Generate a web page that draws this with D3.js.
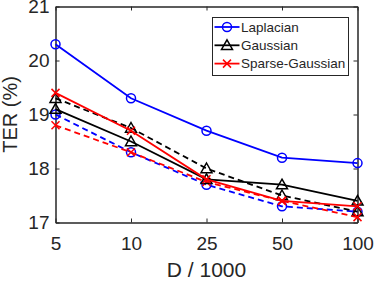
<!DOCTYPE html>
<html>
<head>
<meta charset="utf-8">
<script src="https://cdn.jsdelivr.net/npm/d3@7"></script>
<style>
  body { margin: 0; background: #fff; }
  text { font-family: "Liberation Sans", Arial, sans-serif; fill: #262626; }
</style>
</head>
<body>
<div id="chart"></div>
<script>
const categories = ["5", "10", "25", "50", "100"];
const yTicks = [17, 18, 19, 20, 21];

const laplacian      = [20.3, 19.3, 18.7, 18.2, 18.1];
const laplacianDash  = [19.0, 18.3, 17.7, 17.3, 17.2];
const gaussian       = [19.1, 18.5, 17.8, 17.7, 17.4];
const gaussianDash   = [19.3, 18.75, 18.0, 17.5, 17.2];
const sparse         = [19.4, 18.7, 17.8, 17.4, 17.3];
const sparseDash     = [18.8, 18.3, 17.75, 17.4, 17.1];

const seriesList = [
  { name: "Laplacian", values: laplacianDash, color: "#0000ff", marker: "circle", dash: true },
  { name: "Gaussian", values: gaussianDash, color: "#000000", marker: "triangle", dash: true },
  { name: "Sparse-Gaussian", values: sparseDash, color: "#ff0000", marker: "cross", dash: true },
  { name: "Laplacian", values: laplacian, color: "#0000ff", marker: "circle", dash: false, legend: true },
  { name: "Gaussian", values: gaussian, color: "#000000", marker: "triangle", dash: false, legend: true },
  { name: "Sparse-Gaussian", values: sparse, color: "#ff0000", marker: "cross", dash: false, legend: true }
];

const width = 374, height = 282;
const margin = { top: 6.5, right: 16.5, bottom: 59.5, left: 55.5 };
const w = width - margin.left - margin.right;
const h = height - margin.top - margin.bottom;

const svg = d3.select("#chart").append("svg")
  .attr("width", width)
  .attr("height", height);

const g = svg.append("g")
  .attr("transform", `translate(${margin.left},${margin.top})`);

const x = d3.scalePoint().domain(categories).range([0, w]);
const y = d3.scaleLinear().domain([17, 21]).range([h, 0]);

const axisColor = "#262626";

// axes, inward ticks on all four sides
const axBottom = g.append("g")
  .attr("transform", `translate(0,${h})`)
  .call(d3.axisBottom(x).tickSizeInner(-4).tickSizeOuter(0).tickPadding(14.5));
const axTop = g.append("g")
  .call(d3.axisTop(x).tickSizeInner(-4).tickSizeOuter(0).tickFormat(""));
const axLeft = g.append("g")
  .call(d3.axisLeft(y).tickValues(yTicks).tickFormat(d3.format("d"))
    .tickSizeInner(-4).tickSizeOuter(0).tickPadding(6));
const axRight = g.append("g")
  .attr("transform", `translate(${w},0)`)
  .call(d3.axisRight(y).tickValues(yTicks).tickSizeInner(-4).tickSizeOuter(0).tickFormat(""));

[axBottom, axTop, axLeft, axRight].forEach(a => {
  a.selectAll("path").attr("stroke", axisColor).attr("stroke-width", 1.5);
  a.selectAll("line").attr("stroke", axisColor).attr("stroke-width", 1);
  a.selectAll("text").attr("font-size", 19).attr("fill", axisColor)
    .style("font-family", "Liberation Sans, Arial, sans-serif");
});

function drawMarker(sel, type, color, size) {
  if (type === "circle") {
    sel.append("circle").attr("r", size).attr("fill", "none")
      .attr("stroke", color).attr("stroke-width", 1.5);
  } else if (type === "triangle") {
    const s = size + 1;
    sel.append("path")
      .attr("d", `M0,${-s} L${s},${s * 0.75} L${-s},${s * 0.75} Z`)
      .attr("fill", "none").attr("stroke", color).attr("stroke-width", 1.5);
  } else {
    const s = size - 0.5;
    sel.append("path")
      .attr("d", `M${-s},${-s} L${s},${s} M${-s},${s} L${s},${-s}`)
      .attr("stroke", color).attr("stroke-width", 1.5);
  }
}

const line = d3.line()
  .x((d, i) => x(categories[i]))
  .y(d => y(d));

seriesList.forEach(s => {
  g.append("path")
    .datum(s.values)
    .attr("d", line)
    .attr("fill", "none")
    .attr("stroke", s.color)
    .attr("stroke-width", 1.8)
    .attr("stroke-dasharray", s.dash ? "6,4" : null);

  s.values.forEach((v, i) => {
    const m = g.append("g")
      .attr("transform", `translate(${x(categories[i])},${y(v)})`);
    drawMarker(m, s.marker, s.color, 4.5);
  });
});

// legend
const legend = g.append("g").attr("transform", `translate(${212.5 - margin.left},${17.5 - margin.top})`);
legend.append("rect")
  .attr("width", 136).attr("height", 58)
  .attr("fill", "#fff").attr("stroke", axisColor).attr("stroke-width", 1);

seriesList.filter(s => s.legend).forEach((s, i) => {
  const row = legend.append("g").attr("transform", `translate(0,${9.5 + i * 18.3})`);
  row.append("line")
    .attr("x1", 2).attr("x2", 27)
    .attr("stroke", s.color).attr("stroke-width", 1.8);
  drawMarker(row.append("g").attr("transform", "translate(14.5,0)"), s.marker, s.color, 4.5);
  row.append("text")
    .attr("x", 28.5).attr("dy", "0.36em")
    .attr("font-size", 13.5)
    .text(s.name);
});

// axis titles
svg.append("text")
  .attr("x", margin.left + w / 2)
  .attr("y", 277)
  .attr("text-anchor", "middle")
  .attr("font-size", 21)
  .text("D / 1000");

svg.append("text")
  .attr("transform", `translate(17,${margin.top + h / 2}) rotate(-90)`)
  .attr("text-anchor", "middle")
  .attr("font-size", 20)
  .text("TER (%)");
</script>
</body>
</html>
